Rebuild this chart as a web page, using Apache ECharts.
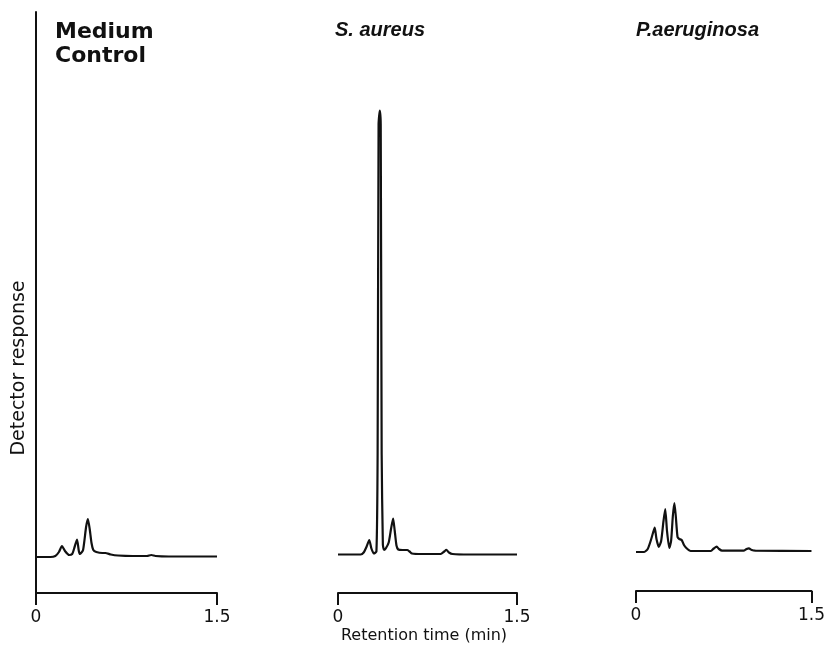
<!DOCTYPE html>
<html>
<head>
<meta charset="utf-8">
<script src="https://cdn.jsdelivr.net/npm/echarts@6/dist/echarts.min.js"></script>
<style>
html,body{margin:0;padding:0;background:#fff;}
#c{width:828px;height:653px;}
</style>
</head>
<body>
<div id="c"></div>
<script>
// Retention time (min), detector response (arbitrary units above baseline)
const panelTitles = ['Medium\nControl', 'S. aureus', 'P.aeruginosa'];
const xTicks = [0, 1.5];
const medium = [[0,0],[0.12,0],[0.16,1],[0.19,5],[0.215,11],[0.24,6],[0.275,2],[0.30,3],[0.315,8],[0.34,17.5],[0.355,6],[0.365,3],[0.39,7],[0.415,30],[0.43,38],[0.445,28],[0.46,14],[0.475,7],[0.50,5],[0.55,4],[0.575,4],[0.62,2.5],[0.68,1.5],[0.80,1],[0.92,1],[0.955,2],[0.99,1],[1.1,0.5],[1.5,0.5]];
const aureus = [[0,0],[0.19,0],[0.215,2],[0.24,8],[0.262,14.5],[0.28,6],[0.30,1],[0.322,3],[0.332,100],[0.340,430],[0.350,444],[0.358,430],[0.366,100],[0.376,10],[0.386,4.5],[0.40,6],[0.425,12],[0.445,26],[0.462,36],[0.475,24],[0.49,9],[0.505,5],[0.54,4.5],[0.58,4.5],[0.60,3],[0.62,1],[0.70,0.5],[0.86,0.5],[0.89,3],[0.908,4.7],[0.93,2],[0.96,0.5],[1.1,0],[1.5,0]];
const aeruginosa = [[0,-1],[0.07,-1],[0.10,2],[0.125,10],[0.145,18],[0.16,23.5],[0.175,12],[0.195,4],[0.215,10],[0.235,30],[0.25,42],[0.265,20],[0.285,3],[0.30,10],[0.315,35],[0.328,48],[0.34,35],[0.355,14],[0.37,12],[0.39,11],[0.41,6],[0.43,3],[0.467,0],[0.64,0],[0.665,2.5],[0.69,4.3],[0.71,2],[0.735,0.3],[0.92,0.3],[0.945,2],[0.965,2.7],[0.99,1],[1.02,0.3],[1.5,0]];
const traces = [medium, aureus, aeruginosa];

const ink = '#111';
const grids = [
  {left:36, width:181, top:12, bottom:60},
  {left:338, width:179, top:12, bottom:60},
  {left:636, width:179, top:12, bottom:62}
];
const yRanges = [[-36,545],[-38.5,542.5],[-40,539]];

const chart = echarts.init(document.getElementById('c'), null, {renderer:'canvas'});
const xAxes = grids.map((g,i)=>({
  type:'value', gridIndex:i, min:xTicks[0], max:xTicks[1], interval:xTicks[1]-xTicks[0],
  axisLine:{show:true, onZero:false, lineStyle:{color:ink, width:2}},
  axisTick:{show:true, length:12, lineStyle:{color:ink, width:2}},
  axisLabel:{show:true, color:ink, fontSize:17, fontFamily:'DejaVu Sans', margin:16,
    showMinLabel:true, showMaxLabel:true, formatter:v=>String(v)},
  splitLine:{show:false}
}));
const yAxes = grids.map((g,i)=>({
  type:'value', gridIndex:i, min:yRanges[i][0], max:yRanges[i][1],
  axisLine:{show:i===0, onZero:false, lineStyle:{color:ink, width:2}},
  axisTick:{show:false}, axisLabel:{show:false}, splitLine:{show:false}
}));
const series = traces.map((d,i)=>({
  type:'line', xAxisIndex:i, yAxisIndex:i, data:d, showSymbol:false, symbol:'none',
  smooth:0.2, lineStyle:{color:ink, width:2.2}, animation:false
}));
const titles = [
  {text:panelTitles[0], left:55, top:20, padding:0, textStyle:{fontFamily:'DejaVu Sans', fontWeight:'bold', fontSize:22, lineHeight:24, color:ink}},
  {text:panelTitles[1], left:335, top:19, padding:0, textStyle:{fontFamily:'Liberation Sans', fontWeight:'bold', fontStyle:'italic', fontSize:20, lineHeight:22, color:ink}},
  {text:panelTitles[2], left:636, top:19, padding:0, textStyle:{fontFamily:'Liberation Sans', fontWeight:'bold', fontStyle:'italic', fontSize:20, lineHeight:22, color:ink}}
];
chart.setOption({
  animation:false,
  backgroundColor:'#fff',
  title:titles,
  grid:grids,
  xAxis:xAxes,
  yAxis:yAxes,
  series:series,
  graphic:[
    {type:'text', x:19, y:368, rotation:Math.PI/2, style:{text:'Detector response', font:'19px "DejaVu Sans"', fill:ink, textAlign:'center', textVerticalAlign:'middle'}},
    {type:'text', x:424, y:636, style:{text:'Retention time (min)', font:'16px "DejaVu Sans"', fill:ink, textAlign:'center', textVerticalAlign:'middle'}}
  ]
});
</script>
</body>
</html>
